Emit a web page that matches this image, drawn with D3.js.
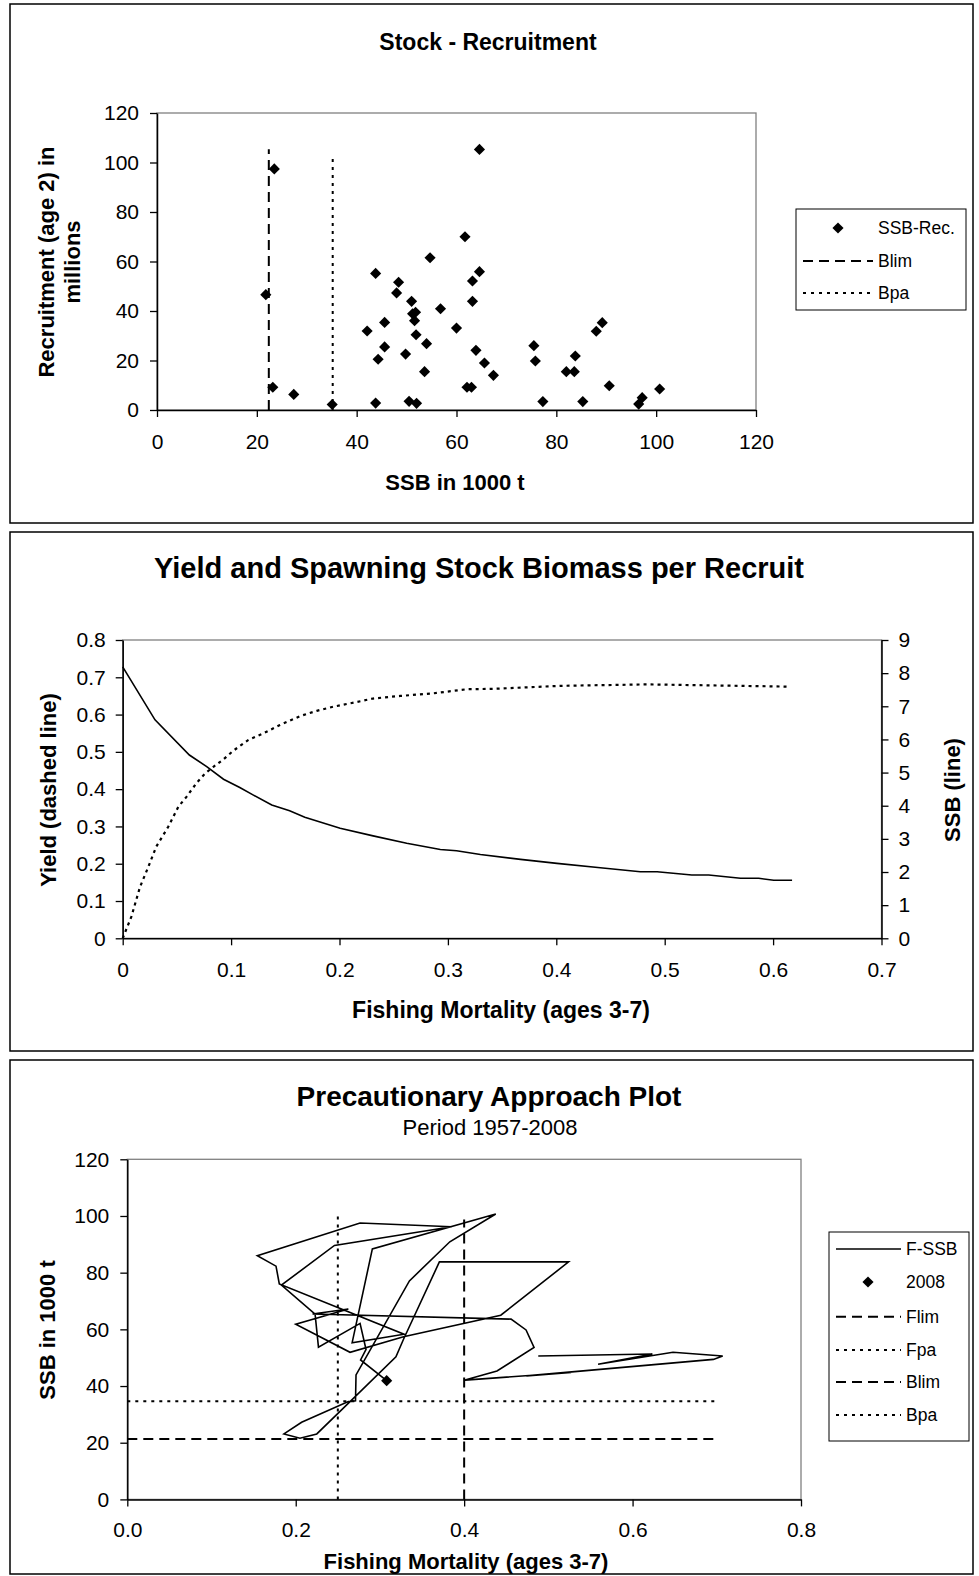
<!DOCTYPE html>
<html><head><meta charset="utf-8">
<script src="https://cdn.jsdelivr.net/npm/d3@7"></script>
<style>
body{margin:0;background:#fff;}
svg text{font-family:"Liberation Sans",Arial,sans-serif;fill:#000;}
</style></head>
<body><svg id="c" width="979" height="1576"></svg>
<script>
// ---------- Panel 1 data: Stock - Recruitment ----------
const srSSB = [23.5,21.8,23.2,27.4,35.1,43.8,48.4,48.0,51.0,51.8,51.2,51.6,56.8,54.7,61.7,45.6,42.1,51.9,60.0,54.0,45.6,44.3,49.8,53.6,43.8,50.5,52.0,62.1,63.0,64.6,64.6,63.2,63.2,63.9,65.6,67.4,75.5,75.8,77.3,82.0,83.6,83.8,88.0,89.2,85.3,90.6,96.5,97.2,100.7];
const srRec = [97.4,46.6,9.2,6.3,2.2,55.2,51.6,47.3,43.9,39.5,38.9,36.1,40.9,61.5,70.0,35.4,31.9,30.4,33.1,26.8,25.5,20.5,22.6,15.5,2.8,3.5,2.7,9.2,9.2,105.3,55.9,52.1,43.9,24.1,19.0,14.0,26.0,19.8,3.4,15.5,15.5,21.8,31.8,35.3,3.4,9.8,2.4,5.0,8.5];
const p1BlimX = 22.4, p1BlimTop = 105.4;
const p1BpaX = 35.2, p1BpaTop = 103;
const p1Ticks = [0,20,40,60,80,100,120];
const p1Legend = ["SSB-Rec.","Blim","Bpa"];

// ---------- Panel 2 data: Yield & SSB per recruit ----------
const ssbF = [0,0.0298,0.0615,0.0775,0.093,0.108,0.1206,0.1375,0.154,0.168,0.2006,0.231,0.262,0.293,0.308,0.330,0.367,0.4006,0.4406,0.4775,0.493,0.525,0.5406,0.5699,0.5867,0.6006,0.6175];
const ssbPR = [8.19,6.59,5.53,5.18,4.80,4.55,4.32,4.02,3.85,3.65,3.32,3.09,2.87,2.68,2.64,2.53,2.38,2.26,2.13,2.01,2.01,1.91,1.91,1.81,1.81,1.75,1.75];
const yprF = [0,0.008,0.016,0.0237,0.031,0.042,0.0514,0.059,0.068,0.076,0.0837,0.093,0.102,0.116,0.130,0.145,0.1637,0.179,0.194,0.213,0.231,0.256,0.2867,0.3175,0.342,0.4037,0.4837,0.613];
const ypr = [0,0.058,0.138,0.192,0.246,0.299,0.353,0.380,0.416,0.442,0.460,0.480,0.503,0.532,0.550,0.572,0.596,0.610,0.621,0.632,0.643,0.650,0.657,0.668,0.669,0.677,0.681,0.675];
const p2XTicks = [0,0.1,0.2,0.3,0.4,0.5,0.6,0.7];
const p2LTicks = [0,0.1,0.2,0.3,0.4,0.5,0.6,0.7,0.8];
const p2RTicks = [0,1,2,3,4,5,6,7,8,9];

// ---------- Panel 3 data: Precautionary approach plot ----------
const paF = [0.488,0.6235,0.559,0.648,0.707,0.696,0.474,0.527,0.401,0.439,0.483,0.4735,0.4557,0.220,0.2625,0.200,0.2645,0.328,0.4435,0.524,0.3706,0.328,0.319,0.2645,0.225,0.205,0.186,0.207,0.2625,0.271,0.2716,0.335,0.383,0.4375,0.291,0.267,0.3286,0.1805,0.1766,0.1544,0.2764,0.385,0.246,0.183,0.223,0.227,0.2764,0.2835,0.277,0.308];
const paSSB = [50.6,51.3,47.7,51.9,50.6,49.4,43.6,44.8,42.1,45.3,53.6,59.8,63.6,65.4,67.2,61.8,51.9,57.4,65.0,83.8,83.8,56.5,50.3,34.5,23.1,21.6,23.1,27.2,34.5,34.8,43.9,77.1,90.9,100.7,88.4,55.3,58.3,76.0,82.3,86.0,97.5,96.2,89.6,75.6,65.4,53.7,62.1,52.9,49.2,41.9];
const p3Flim = 0.40, p3FlimTop = 98.8;
const p3Fpa = 0.25, p3FpaTop = 100.7;
const p3Blim = 21.3, p3Bpa = 34.6, p3RefRight = 0.70;
const p3XTicks = [0,0.2,0.4,0.6,0.8];
const p3YTicks = [0,20,40,60,80,100,120];
const p3Legend = ["F-SSB","2008","Flim","Fpa","Blim","Bpa"];

// ---------- drawing ----------
const svg = d3.select("#c");
const TICKF = 21, AXF = 22, LEGF = 17.5;
const DASH = "10,6", DOT = "3,5";
const diamond = d3.symbol(d3.symbolSquare, 62);

function frame(x0,y0,x1,y1){
  svg.append("rect").attr("x",x0).attr("y",y0).attr("width",x1-x0).attr("height",y1-y0)
    .attr("fill","none").attr("stroke","#000").attr("stroke-width",1.5);
}
function plotBox(x0,y0,x1,y1){
  svg.append("rect").attr("x",x0).attr("y",y0).attr("width",x1-x0).attr("height",y1-y0)
    .attr("fill","none").attr("stroke","#808080").attr("stroke-width",1.3);
}
function styleAxis(g){
  g.selectAll("path.domain").attr("stroke","#000").attr("stroke-width",1.5);
  g.selectAll(".tick line").attr("stroke","#000").attr("stroke-width",1.3);
  g.selectAll(".tick text").attr("font-size",TICKF).attr("font-family","Liberation Sans, Arial, sans-serif").attr("fill","#000");
}
function text(x,y,s,size,bold,anchor,rot){
  const t = svg.append("text").attr("x",x).attr("y",y).text(s)
    .attr("font-size",size).attr("font-weight",bold?"bold":"normal")
    .attr("text-anchor",anchor||"middle").attr("dominant-baseline","central");
  if(rot) t.attr("transform",`rotate(${rot},${x},${y})`);
  return t;
}
function legendLine(x0,x1,y,dash){
  const l = svg.append("line").attr("x1",x0).attr("x2",x1).attr("y1",y).attr("y2",y)
    .attr("stroke","#000").attr("stroke-width",dash?2:1.5);
  if(dash) l.attr("stroke-dasharray",dash);
}

// ===== Panel 1 =====
frame(10,4,973,523);
const x1 = d3.scaleLinear().domain([0,120]).range([157,756]);
const y1 = d3.scaleLinear().domain([0,120]).range([410,113]);
plotBox(157,113,756,410);
svg.append("line").attr("x1",x1(p1BlimX)).attr("x2",x1(p1BlimX)).attr("y1",y1(0)).attr("y2",y1(p1BlimTop))
  .attr("stroke","#000").attr("stroke-width",2).attr("stroke-dasharray",DASH);
svg.append("line").attr("x1",x1(p1BpaX)).attr("x2",x1(p1BpaX)).attr("y1",y1(0)).attr("y2",y1(p1BpaTop))
  .attr("stroke","#000").attr("stroke-width",2).attr("stroke-dasharray",DOT);
svg.append("g").selectAll("path").data(srSSB).join("path")
  .attr("d",diamond).attr("fill","#000")
  .attr("transform",(d,i)=>`translate(${x1(d)},${y1(srRec[i])}) rotate(45)`);
const g1y = svg.append("g").attr("transform","translate(157,0)")
  .call(d3.axisLeft(y1).tickValues(p1Ticks).tickSize(7).tickSizeOuter(0).tickPadding(11));
styleAxis(g1y);
const g1x = svg.append("g").attr("transform","translate(0,410)")
  .call(d3.axisBottom(x1).tickValues(p1Ticks).tickSize(7).tickSizeOuter(0).tickPadding(17));
styleAxis(g1x);
text(488,42,"Stock - Recruitment",23,true);
text(455,482,"SSB in 1000 t",AXF,true);
text(46,262,"Recruitment (age 2) in",AXF,true,"middle",-90);
text(72,262,"millions",AXF,true,"middle",-90);
// legend 1
svg.append("rect").attr("x",796).attr("y",209).attr("width",170).attr("height",101)
  .attr("fill","#fff").attr("stroke","#000").attr("stroke-width",1);
svg.append("path").attr("d",diamond).attr("fill","#000").attr("transform","translate(838,228) rotate(45)");
text(878,228,p1Legend[0],LEGF,false,"start");
legendLine(803,873,261,DASH); text(878,261,p1Legend[1],LEGF,false,"start");
legendLine(803,873,293,DOT);  text(878,293,p1Legend[2],LEGF,false,"start");

// ===== Panel 2 =====
frame(10,532,973,1051);
const x2 = d3.scaleLinear().domain([0,0.7]).range([122.7,881.5]);
const yL = d3.scaleLinear().domain([0,0.8]).range([938.3,640]);
const yR = d3.scaleLinear().domain([0,9]).range([938.3,640]);
plotBox(122.7,640,881.5,938.3);
svg.append("path").datum(ssbF.map((f,i)=>[f,ssbPR[i]]))
  .attr("d",d3.line().x(d=>x2(d[0])).y(d=>yR(d[1])))
  .attr("fill","none").attr("stroke","#000").attr("stroke-width",1.6);
svg.append("path").datum(yprF.map((f,i)=>[f,ypr[i]]))
  .attr("d",d3.line().x(d=>x2(d[0])).y(d=>yL(d[1])))
  .attr("fill","none").attr("stroke","#000").attr("stroke-width",2.2).attr("stroke-dasharray","3,4");
const g2l = svg.append("g").attr("transform","translate(122.7,0)")
  .call(d3.axisLeft(yL).tickValues(p2LTicks).tickSize(7).tickSizeOuter(0).tickPadding(10).tickFormat(d3.format("")));
styleAxis(g2l);
const g2r = svg.append("g").attr("transform","translate(881.5,0)")
  .call(d3.axisRight(yR).tickValues(p2RTicks).tickSize(7).tickSizeOuter(0).tickPadding(10));
styleAxis(g2r);
const g2x = svg.append("g").attr("transform","translate(0,938.3)")
  .call(d3.axisBottom(x2).tickValues(p2XTicks).tickSize(7).tickSizeOuter(0).tickPadding(17).tickFormat(d3.format("")));
styleAxis(g2x);
text(479,568,"Yield and Spawning Stock Biomass per Recruit",29,true);
text(501,1010,"Fishing Mortality (ages 3-7)",23,true);
text(48,790,"Yield (dashed line)",AXF,true,"middle",-90);
text(952,790,"SSB (line)",AXF,true,"middle",-90);

// ===== Panel 3 =====
frame(10,1060,973,1574);
const x3 = d3.scaleLinear().domain([0,0.8]).range([127.3,801]);
const y3 = d3.scaleLinear().domain([0,120]).range([1499.4,1159.3]);
plotBox(127.3,1159.3,801,1499.4);
function refLine(xa,ya,xb,yb,dash){
  svg.append("line").attr("x1",x3(xa)).attr("y1",y3(ya)).attr("x2",x3(xb)).attr("y2",y3(yb))
    .attr("stroke","#000").attr("stroke-width",2).attr("stroke-dasharray",dash);
}
refLine(0,p3Bpa,p3RefRight,p3Bpa,DOT);
refLine(0,p3Blim,p3RefRight,p3Blim,DASH);
refLine(p3Fpa,0,p3Fpa,p3FpaTop,DOT);
refLine(p3Flim,0,p3Flim,p3FlimTop,DASH);
svg.append("path").datum(paF.map((f,i)=>[f,paSSB[i]]))
  .attr("d",d3.line().x(d=>x3(d[0])).y(d=>y3(d[1])))
  .attr("fill","none").attr("stroke","#000").attr("stroke-width",1.6).attr("stroke-linejoin","miter");
const last = paF.length-1;
svg.append("path").attr("d",diamond).attr("fill","#000")
  .attr("transform",`translate(${x3(paF[last])},${y3(paSSB[last])}) rotate(45)`);
const g3y = svg.append("g").attr("transform","translate(127.3,0)")
  .call(d3.axisLeft(y3).tickValues(p3YTicks).tickSize(7).tickSizeOuter(0).tickPadding(11));
styleAxis(g3y);
const g3x = svg.append("g").attr("transform","translate(0,1499.4)")
  .call(d3.axisBottom(x3).tickValues(p3XTicks).tickSize(7).tickSizeOuter(0).tickPadding(16).tickFormat(d3.format(".1f")));
styleAxis(g3x);
text(489,1096,"Precautionary Approach Plot",28,true);
text(490,1127,"Period 1957-2008",AXF,false);
text(466,1561,"Fishing Mortality (ages 3-7)",AXF,true);
text(47,1330,"SSB in 1000 t",AXF,true,"middle",-90);
// legend 3
svg.append("rect").attr("x",829).attr("y",1232).attr("width",140).attr("height",209)
  .attr("fill","#fff").attr("stroke","#000").attr("stroke-width",1);
const ly = [1249,1282,1316.7,1350,1382,1415];
legendLine(836,901,ly[0],null);
svg.append("path").attr("d",diamond).attr("fill","#000").attr("transform",`translate(868,${ly[1]}) rotate(45)`);
legendLine(836,901,ly[2],DASH);
legendLine(836,901,ly[3],DOT);
legendLine(836,901,ly[4],DASH);
legendLine(836,901,ly[5],DOT);
p3Legend.forEach((s,i)=>text(906,ly[i],s,LEGF,false,"start"));
</script></body></html>
